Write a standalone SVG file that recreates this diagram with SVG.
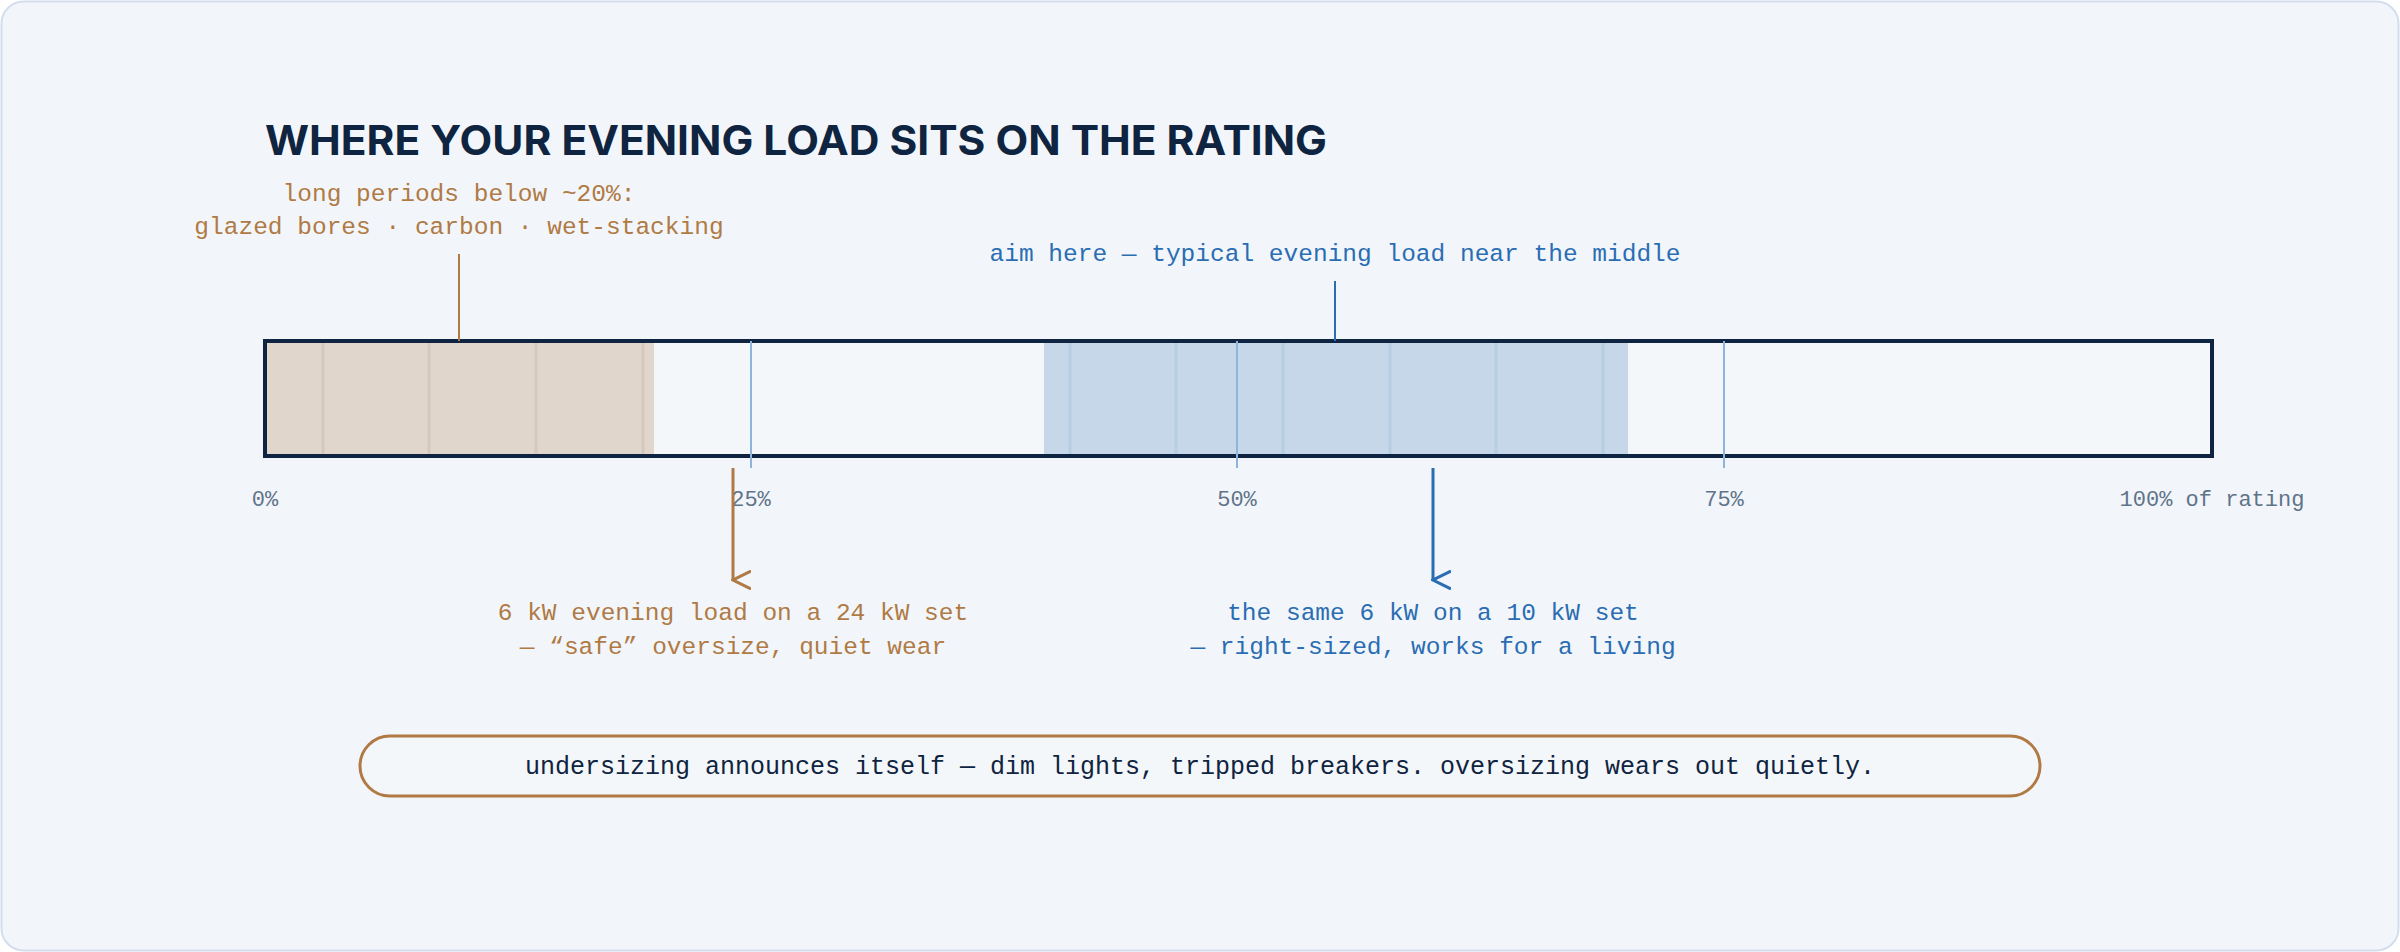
<svg xmlns="http://www.w3.org/2000/svg" width="2400" height="952" viewBox="0 0 2400 952">
<defs>
<style>
.mono{font-family:"Liberation Mono","DejaVu Sans Mono",monospace}
.br{fill:#b07a45}
.bl{fill:#2a6db3}
.ax{fill:#5f7389;font-size:22px}
.tick{stroke:#8db4dc;stroke-width:2}
</style>
<marker id="ab" viewBox="0 0 20 20" refX="10" refY="18" markerWidth="20" markerHeight="20" markerUnits="userSpaceOnUse" orient="auto"><path d="M1 0 L10 18 L19 0" fill="none" stroke="#b07a45" stroke-width="3"/></marker>
<marker id="abl" viewBox="0 0 20 20" refX="10" refY="18" markerWidth="20" markerHeight="20" markerUnits="userSpaceOnUse" orient="auto"><path d="M1 0 L10 18 L19 0" fill="none" stroke="#2a6db3" stroke-width="3"/></marker>
</defs>
<rect x="1.5" y="1.5" width="2397" height="949" rx="22" fill="#f2f6fa" stroke="#d3deed" stroke-width="2"/>
<text x="265" y="155" font-family="Inter,'Liberation Sans',sans-serif" font-weight="700" font-size="41" fill="#0f2440" textLength="1062" lengthAdjust="spacingAndGlyphs">WHERE YOUR EVENING LOAD SITS ON THE RATING</text>
<g id="bar">
<rect x="265" y="341" width="1947" height="115" fill="#f4f7fa"/>
<rect x="265" y="341" width="389" height="115" fill="#e0d6cc"/>
<g stroke="#cfc2b5" stroke-width="3" opacity="0.6"><line x1="323" y1="341" x2="323" y2="456"/><line x1="429" y1="341" x2="429" y2="456"/><line x1="536" y1="341" x2="536" y2="456"/><line x1="643" y1="341" x2="643" y2="456"/></g>
<rect x="1044" y="341" width="584" height="115" fill="#c5d7e8"/>
<g stroke="#b2c9e1" stroke-width="3" opacity="0.7"><line x1="1070" y1="341" x2="1070" y2="456"/><line x1="1176" y1="341" x2="1176" y2="456"/><line x1="1283" y1="341" x2="1283" y2="456"/><line x1="1390" y1="341" x2="1390" y2="456"/><line x1="1496" y1="341" x2="1496" y2="456"/><line x1="1603" y1="341" x2="1603" y2="456"/></g>
<rect x="265" y="341" width="1947" height="115" fill="none" stroke="#0f2440" stroke-width="4"/>
<line class="tick" x1="751" y1="341" x2="751" y2="468"/>
<line class="tick" x1="1237" y1="341" x2="1237" y2="468"/>
<line class="tick" x1="1724" y1="341" x2="1724" y2="468"/>
</g>
<g id="axis" class="mono ax" text-anchor="middle">
<text x="265" y="506">0%</text><text x="751" y="506">25%</text><text x="1237" y="506">50%</text><text x="1724" y="506">75%</text><text x="2212" y="506">100% of rating</text>
</g>
<g id="connectors">
<line x1="459" y1="254" x2="459" y2="341" stroke="#b07a45" stroke-width="2"/>
<line x1="1335" y1="281" x2="1335" y2="341" stroke="#2a6db3" stroke-width="2"/>
<line x1="733" y1="468" x2="733" y2="580" stroke="#b07a45" stroke-width="3" marker-end="url(#ab)"/>
<line x1="1433" y1="468" x2="1433" y2="580" stroke="#2a6db3" stroke-width="3" marker-end="url(#abl)"/>
</g>
<g id="low-note" class="mono br" font-size="24.5" text-anchor="middle">
<text x="459" y="201">long periods below ~20%:</text>
<text x="459" y="234">glazed bores · carbon · wet-stacking</text>
</g>
<g id="aim-note" class="mono bl" font-size="24.5" text-anchor="middle"><text x="1335" y="261">aim here — typical evening load near the middle</text></g>
<g id="oversize" class="mono br" font-size="24.5" text-anchor="middle">
<text x="733" y="620">6 kW evening load on a 24 kW set</text>
<text x="733" y="654">— “safe” oversize, quiet wear</text>
</g>
<g id="rightsize" class="mono bl" font-size="24.5" text-anchor="middle">
<text x="1433" y="620">the same 6 kW on a 10 kW set</text>
<text x="1433" y="654">— right-sized, works for a living</text>
</g>
<g id="summary">
<rect x="360" y="736" width="1680" height="60" rx="30" fill="#f4f7fa" stroke="#b07a45" stroke-width="3"/>
<text x="1200" y="774" class="mono" font-size="25" fill="#0f2440" text-anchor="middle">undersizing announces itself — dim lights, tripped breakers. oversizing wears out quietly.</text>
</g>
</svg>
